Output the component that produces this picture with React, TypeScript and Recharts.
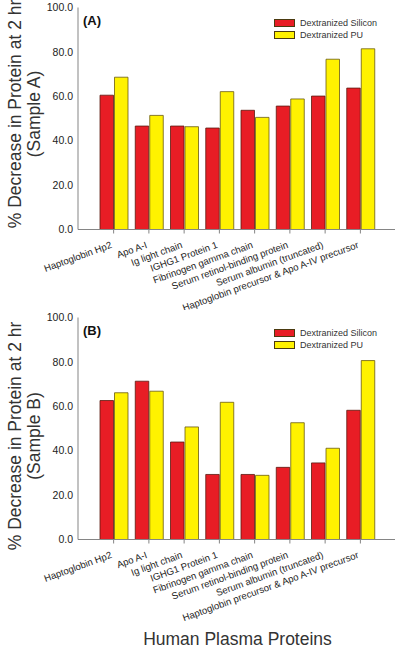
import React from 'react';
import { BarChart, Bar, XAxis, YAxis, Legend } from 'recharts';

const categories = [
  'Haptoglobin Hp2',
  'Apo A-I',
  'Ig light chain',
  'IGHG1 Protein 1',
  'Fibrinogen gamma chain',
  'Serum retinol-binding protein',
  'Serum albumin (truncated)',
  'Haptoglobin precursor & Apo A-IV precursor',
];
const siliconA = [60.5, 46.6, 46.6, 45.7, 53.7, 55.6, 60.1, 63.7];
const puA = [68.6, 51.4, 46.3, 62.1, 50.5, 58.8, 76.7, 81.4];
const siliconB = [62.6, 71.3, 43.9, 29.3, 29.3, 32.5, 34.5, 58.2];
const puB = [66.1, 66.8, 50.7, 61.8, 28.9, 52.6, 41.1, 80.6];
const yTicks = [0, 20, 40, 60, 80, 100];
const seriesNames = ['Dextranized Silicon', 'Dextranized PU'];
const yTitle = '% Decrease in Protein at 2 hr';
const xTitle = 'Human Plasma Proteins';

const FONT = '"Liberation Sans", Arial, sans-serif';
const RED = '#E81D25';
const YELLOW = '#FFF200';
const FRAME = '#858585';

const buildData = (sil: number[], pu: number[]) =>
  categories.map((c, i) => ({ name: c, silicon: sil[i], pu: pu[i] }));

const XTick = (props: any) => {
  const { x, y, payload } = props;
  return (
    <g transform={`translate(${x - 1},${y + 12})`}>
      <text
        textAnchor="end"
        transform="rotate(-20)"
        fontSize={9.6}
        fontFamily={FONT}
        fill="#222"
      >
        {payload.value}
      </text>
    </g>
  );
};

const YTitle = (props: any) => {
  const { cy, sample, letter } = props;
  return (
    <g fontFamily={FONT}>
      <text
        transform={`translate(21,${cy}) rotate(-90)`}
        textAnchor="middle"
        fontSize={17.5}
        fill="#333"
      >
        {yTitle}
      </text>
      <text
        transform={`translate(40,${cy}) rotate(-90)`}
        textAnchor="middle"
        fontSize={17.5}
        fill="#333"
      >
        {sample}
      </text>
      <text x={83} y={25} fontSize={13} fontWeight="bold" fill="#111">
        {letter}
      </text>
    </g>
  );
};

const XTitle = (props: any) => {
  const { ty } = props;
  return (
    <text x={237.5} y={ty} textAnchor="middle" fontSize={17.5} fontFamily={FONT} fill="#333">
      {xTitle}
    </text>
  );
};

const renderLegend = () => (
  <div style={{ fontFamily: FONT, fontSize: 9, color: '#333' }}>
    {[RED, YELLOW].map((c, i) => (
      <div key={i} style={{ display: 'flex', alignItems: 'center', height: 12 }}>
        <div
          style={{
            width: 19,
            height: 6,
            background: c,
            border: '1px solid #4a3a10',
            marginRight: 5,
          }}
        />
        <span style={{ whiteSpace: 'nowrap' }}>{seriesNames[i]}</span>
      </div>
    ))}
  </div>
);

const Panel = ({
  sil,
  pu,
  letter,
  sample,
  cy,
  height,
  xHeight,
  showTitle,
}: any) => {
  const data = buildData(sil, pu);
  return (
    <BarChart
      width={400}
      height={height}
      data={data}
      margin={{ top: 7.5, right: 5, bottom: 0, left: 0 }}
      barGap={1}
      style={{ fontFamily: FONT }}
    >
      <XAxis
        dataKey="name"
        interval={0}
        height={xHeight}
        padding={{ left: 18, right: 17 }}
        tick={<XTick />}
        tickLine={{ stroke: FRAME }}
        tickSize={4}
        axisLine={{ stroke: FRAME }}
        label={showTitle ? <XTitle ty={334.5} /> : undefined}
      />
      <XAxis
        xAxisId="top"
        dataKey="name"
        orientation="top"
        height={0}
        tick={false}
        tickLine={false}
        axisLine={{ stroke: FRAME }}
      />
      <YAxis
        domain={[0, 100]}
        ticks={yTicks}
        width={78}
        tickFormatter={(v: number) => v.toFixed(1)}
        tickLine={false}
        tickSize={0}
        tickMargin={5}
        axisLine={{ stroke: FRAME }}
        tick={{ fontSize: 10.5, fill: '#222', fontFamily: FONT }}
        label={<YTitle cy={cy} sample={sample} letter={letter} />}
      />
      <YAxis
        yAxisId="right"
        orientation="right"
        domain={[0, 100]}
        width={0}
        tick={false}
        tickLine={false}
        axisLine={{ stroke: FRAME }}
      />
      <Legend
        layout="vertical"
        align="center"
        verticalAlign="middle"
        content={renderLegend}
        wrapperStyle={{ position: 'absolute', left: 274, top: 16.5, width: 120 }}
      />
      <Bar
        dataKey="silicon"
        name={seriesNames[0]}
        fill={RED}
        stroke="#5a1a10"
        strokeWidth={0.8}
        barSize={13.5}
        isAnimationActive={false}
      />
      <Bar
        dataKey="pu"
        name={seriesNames[1]}
        fill={YELLOW}
        stroke="#6a5a10"
        strokeWidth={0.8}
        barSize={13.5}
        isAnimationActive={false}
      />
    </BarChart>
  );
};

export default function App() {
  return (
    <div
      style={{
        position: 'absolute',
        left: 0,
        top: 0,
        width: 400,
        height: 648,
        background: '#fff',
      }}
    >
      <div style={{ position: 'absolute', left: 0, top: 0 }}>
        <Panel
          sil={siliconA}
          pu={puA}
          letter="(A)"
          sample="(Sample A)"
          cy={114}
          height={310}
          xHeight={80.5}
          showTitle={false}
        />
      </div>
      <div style={{ position: 'absolute', left: 0, top: 310 }}>
        <Panel
          sil={siliconB}
          pu={puB}
          letter="(B)"
          sample="(Sample B)"
          cy={126}
          height={338}
          xHeight={108.5}
          showTitle={true}
        />
      </div>
    </div>
  );
}
